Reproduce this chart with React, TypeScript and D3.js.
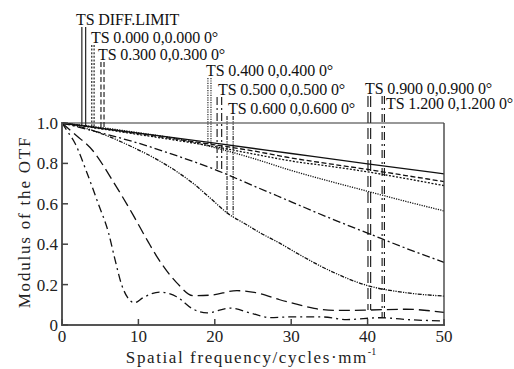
import React from "react";
import * as d3 from "d3";

// ---------- data ----------
const xTicks = [0, 10, 20, 30, 40, 50];
const yTicks = [0, 0.2, 0.4, 0.6, 0.8, 1.0];
const yTickLabels = ["0", "0.2", "0.4", "0.6", "0.8", "1.0"];

const diffLimit: [number, number][] = [[0, 1], [10, 0.95], [20, 0.9], [30, 0.849], [40, 0.798], [50, 0.748]];
const field000: [number, number][] = [[0, 1], [5, 0.972], [10, 0.943], [15, 0.914], [20, 0.883], [25, 0.847], [30, 0.812], [35, 0.786], [40, 0.758], [45, 0.725], [50, 0.69]];
const field030: [number, number][] = [[0, 1], [5, 0.974], [10, 0.947], [15, 0.92], [20, 0.892], [25, 0.862], [30, 0.827], [35, 0.798], [40, 0.77], [45, 0.74], [50, 0.71]];
const field040: [number, number][] = [[0, 1], [5, 0.978], [10, 0.952], [15, 0.922], [20, 0.878], [25, 0.825], [30, 0.765], [35, 0.712], [40, 0.662], [45, 0.612], [50, 0.565]];
const field050: [number, number][] = [[0, 1], [5, 0.952], [10, 0.9], [15, 0.838], [20, 0.77], [25, 0.69], [30, 0.61], [35, 0.53], [40, 0.455], [45, 0.38], [50, 0.31]];
const field060: [number, number][] = [[0, 1], [3, 0.975], [6, 0.935], [9, 0.885], [12.4, 0.82], [15, 0.76], [17.2, 0.7], [19.5, 0.625], [21.6, 0.555], [24, 0.5], [26, 0.455], [28.5, 0.405], [31, 0.35], [35, 0.27], [40, 0.195], [45, 0.16], [50, 0.143]];
const field090: [number, number][] = [[0, 1], [1.5, 0.95], [4.1, 0.86], [6.7, 0.71], [9.3, 0.545], [11.3, 0.41], [12.4, 0.34], [15, 0.21], [17.2, 0.145], [19.5, 0.148], [22.9, 0.17], [26, 0.155], [28.5, 0.125], [30.7, 0.103], [33, 0.082], [36, 0.072], [40, 0.074], [45, 0.078], [50, 0.062]];
const field120: [number, number][] = [[0, 1], [0.6, 0.965], [1.7, 0.9], [3.2, 0.76], [4.75, 0.6], [6.1, 0.455], [6.9, 0.33], [7.8, 0.2], [8.6, 0.135], [9.5, 0.11], [10.6, 0.135], [12.8, 0.163], [15, 0.14], [17.2, 0.078], [19, 0.06], [22, 0.084], [24.6, 0.06], [27.2, 0.037], [30, 0.04], [34, 0.04], [37.3, 0.027], [41.6, 0.036], [46, 0.025], [50, 0.02]];

const seriesNames = [
  "TS DIFF.LIMIT",
  "TS 0.000 0,0.000 0°",
  "TS 0.300 0,0.300 0°",
  "TS 0.400 0,0.400 0°",
  "TS 0.500 0,0.500 0°",
  "TS 0.600 0,0.600 0°",
  "TS 0.900 0,0.900 0°",
  "TS 1.200 0,1.200 0°",
];
const seriesData = [diffLimit, field000, field030, field040, field050, field060, field090, field120];
// frequencies where the legend marker pairs (T, S) drop onto the curves
const markerFreqs: [number, number][] = [[2.6, 3.1], [3.9, 4.2], [5.1, 5.5], [19.1, 19.5], [20.3, 20.9], [21.6, 22.4], [40.05, 40.4], [41.9, 42.2]];

// ---------- styles / layout ----------
const dashes = ["", "2,1.6", "5,2.5", "1.2,1.2", "8,3,2,3", "4,1.2,1.2,1.2,1.2,1.2", "11,5", "8,4,2,4"];
const labelPos: [number, number][] = [[76, 25], [91, 43], [98, 60], [206, 76], [218, 95], [228, 114], [365, 94], [386, 109]];
const markerTop = [27, 45, 62, 78, 97, 116, 96, 96];

const W = 514, H = 369;
const X0 = 62, X1 = 444, Y0 = 325, Y1 = 123;
const FONT = "'Liberation Serif', 'Times New Roman', serif";

function interp(pts: [number, number][], f: number) {
  const i = d3.bisector((d: [number, number]) => d[0]).right(pts, f);
  if (i <= 0) return pts[0][1];
  if (i >= pts.length) return pts[pts.length - 1][1];
  const [xa, ya] = pts[i - 1];
  const [xb, yb] = pts[i];
  return ya + ((yb - ya) * (f - xa)) / (xb - xa);
}

export default function App() {
  const x = d3.scaleLinear().domain([0, 50]).range([X0, X1]);
  const y = d3.scaleLinear().domain([0, 1]).range([Y0, Y1]);
  const line = d3
    .line<[number, number]>()
    .x((d) => x(d[0]))
    .y((d) => y(d[1]))
    .curve(d3.curveMonotoneX);

  return (
    <svg width={W} height={H} style={{ position: "absolute", left: 0, top: 0, background: "#fff" }} fontFamily={FONT}>
      <rect x={0} y={0} width={W} height={H} fill="#fff" />
      {/* curves */}
      <g fill="none" stroke="#111" strokeWidth={1.3}>
        {seriesData.map((d, i) => (
          <path key={i} d={line(d) || ""} strokeDasharray={dashes[i] || undefined} />
        ))}
      </g>
      {/* legend markers */}
      <g fill="none" stroke="#111" strokeWidth={1.1}>
        {markerFreqs.map((pair, i) =>
          pair.map((f, j) => (
            <line
              key={`${i}-${j}`}
              x1={x(f)}
              x2={x(f)}
              y1={markerTop[i]}
              y2={y(interp(seriesData[i], f))}
              strokeDasharray={dashes[i] || undefined}
            />
          ))
        )}
      </g>
      {/* legend labels */}
      <g fontSize={16} fill="#111" letterSpacing={-0.1}>
        {seriesNames.map((s, i) => (
          <text key={i} x={labelPos[i][0]} y={labelPos[i][1]}>
            {s}
          </text>
        ))}
      </g>
      {/* frame */}
      <line x1={X0} x2={X1} y1={Y1} y2={Y1} stroke="#333" strokeWidth={1.2} />
      <line x1={X1} x2={X1} y1={Y1} y2={Y0} stroke="#444" strokeWidth={1.4} />
      <line x1={X0} x2={X0} y1={Y1 - 1} y2={Y0 + 1} stroke="#555" strokeWidth={2} />
      <line x1={X0 - 1} x2={X1 + 1} y1={Y0} y2={Y0} stroke="#555" strokeWidth={2} />
      {/* ticks */}
      <g stroke="#444" strokeWidth={1.5}>
        {yTicks.map((t) => (
          <line key={t} x1={X0} x2={X0 + 6} y1={y(t)} y2={y(t)} />
        ))}
        {xTicks.map((t) => (
          <line key={t} x1={x(t)} x2={x(t)} y1={Y0} y2={Y0 - 6} />
        ))}
      </g>
      <g fontSize={17} fill="#222">
        {yTicks.map((t, i) => (
          <text key={t} x={58} y={y(t) + 6} textAnchor="end">
            {yTickLabels[i]}
          </text>
        ))}
        {xTicks.map((t) => (
          <text key={t} x={x(t)} y={342} textAnchor="middle">
            {t}
          </text>
        ))}
      </g>
      {/* axis titles */}
      <text x={251} y={363} fontSize={17} fill="#222" textAnchor="middle" letterSpacing={1.6}>
        Spatial frequency/cycles·mm
        <tspan fontSize={10} dy={-8} letterSpacing={0}>
          -1
        </tspan>
      </text>
      <text
        transform={`translate(30,222) rotate(-90)`}
        fontSize={17}
        fill="#222"
        textAnchor="middle"
        letterSpacing={1.8}
      >
        Modulus of the OTF
      </text>
    </svg>
  );
}
